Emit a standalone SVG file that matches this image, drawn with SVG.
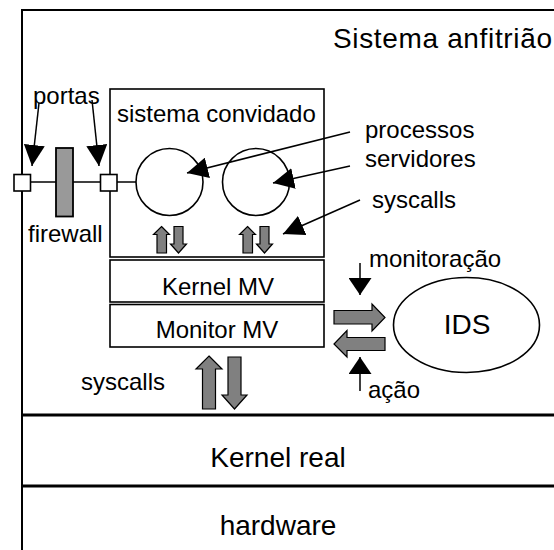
<svg xmlns="http://www.w3.org/2000/svg" width="554" height="550" viewBox="0 0 554 550">
  <style>
    .box { fill: #fff; stroke: #000; stroke-width: 1.6; }
    .wire { fill: none; stroke: #000; stroke-width: 1.5; }
    .block { fill: #808080; stroke: #000; stroke-width: 1.2; stroke-linejoin: miter; }
    .lbl { font-family: "Liberation Sans", Arial, sans-serif; font-size: 24px; fill: #000; }
    .big { font-family: "Liberation Sans", Arial, sans-serif; font-size: 28px; fill: #000; }
    .mid { text-anchor: middle; }
  </style>
  <defs>
    <marker id="head" markerUnits="userSpaceOnUse" markerWidth="21" markerHeight="21" refX="21" refY="10.5" orient="auto">
      <path d="M0,0 L21,10.5 L0,21 z" fill="#000"/>
    </marker>
    <marker id="headShort" markerUnits="userSpaceOnUse" markerWidth="17" markerHeight="23" refX="17" refY="11.5" orient="auto">
      <path d="M0,0 L17,11.5 L0,23 z" fill="#000"/>
    </marker>
  </defs>

  <!-- host system frame and layers -->
  <g id="host">
    <path d="M22,551 V10 H556" fill="none" stroke="#000" stroke-width="2"/>
    <text class="big" x="333" y="48" font-size="29" textLength="219" lengthAdjust="spacing">Sistema anfitrião</text>
  </g>
  <g id="kernel-real">
    <line x1="22" y1="415" x2="556" y2="415" stroke="#000" stroke-width="3"/>
    <text class="big mid" x="278" y="467">Kernel real</text>
  </g>
  <g id="hardware">
    <line x1="22" y1="486" x2="556" y2="486" stroke="#000" stroke-width="3"/>
    <text class="big mid" x="278" y="535">hardware</text>
  </g>

  <!-- guest system -->
  <g id="guest">
    <rect class="box" x="110" y="89" width="214" height="168"/>
    <text class="lbl" x="117" y="122">sistema convidado</text>
  </g>
  <g id="proc1">
    <circle class="box" cx="169.5" cy="182" r="33.5"/>
  </g>
  <g id="proc2">
    <circle class="box" cx="256" cy="182" r="33.5"/>
  </g>
  <g id="kernel-mv">
    <rect class="box" x="110" y="260" width="214" height="42"/>
    <text class="lbl mid" x="218" y="295">Kernel MV</text>
  </g>
  <g id="monitor-mv">
    <rect class="box" x="110" y="304.5" width="214" height="42.5"/>
    <text class="lbl mid" x="217" y="338">Monitor MV</text>
  </g>
  <g id="ids">
    <ellipse class="box" cx="466.5" cy="325" rx="73" ry="47.5"/>
    <text class="big mid" x="467" y="334">IDS</text>
  </g>

  <!-- network side: ports and firewall -->
  <g id="port-outer">
    <rect class="box" x="14" y="174.5" width="16.5" height="16.5" stroke-width="1.5"/>
  </g>
  <g id="port-inner">
    <rect class="box" x="100.5" y="174.5" width="16.5" height="16.5" stroke-width="1.5"/>
  </g>
  <g id="firewall">
    <rect x="56" y="148" width="17" height="68.5" fill="#999" stroke="#000" stroke-width="1.8"/>
    <text class="lbl" x="28" y="242">firewall</text>
  </g>

  <!-- labels -->
  <g id="labels">
    <text class="lbl" x="33" y="104">portas</text>
    <text class="lbl" x="365" y="138">processos</text>
    <text class="lbl" x="365" y="167">servidores</text>
    <text class="lbl" x="372" y="208">syscalls</text>
    <text class="lbl" x="81" y="390">syscalls</text>
    <text class="lbl" x="369" y="267">monitoração</text>
    <text class="lbl" x="368" y="398">ação</text>
  </g>

  <!-- connectors -->
  <g id="connectors">
    <line class="wire" x1="30.5" y1="182" x2="56" y2="182"/>
    <line class="wire" x1="73" y1="182" x2="100.5" y2="182"/>
    <line class="wire" x1="117" y1="182" x2="136" y2="182"/>

    <line class="wire" x1="39" y1="103" x2="32" y2="166" marker-end="url(#head)"/>
    <line class="wire" x1="92" y1="100" x2="99" y2="166" marker-end="url(#head)"/>
    <line class="wire" x1="350" y1="132" x2="187" y2="173" marker-end="url(#head)"/>
    <line class="wire" x1="350" y1="166" x2="273" y2="183" marker-end="url(#head)"/>
    <line class="wire" x1="360" y1="200" x2="283" y2="234" marker-end="url(#head)"/>
    <line class="wire" x1="360" y1="263" x2="360" y2="295" marker-end="url(#headShort)"/>
    <line class="wire" x1="360" y1="391" x2="360" y2="357" marker-end="url(#headShort)"/>

    <!-- syscall block arrows inside the guest -->
    <polygon class="block" points="161.5,226.5 169.5,234.5 166.5,234.5 166.5,253 157,253 157,234.5 153.5,234.5"/>
    <polygon class="block" points="174,226.5 183,226.5 183,244 186.5,244 178.5,253 170.5,244 174,244"/>
    <polygon class="block" points="247.5,226.5 255.5,234.5 252.5,234.5 252.5,253 243,253 243,234.5 239.5,234.5"/>
    <polygon class="block" points="260,226.5 269,226.5 269,244 272.5,244 264.5,253 256.5,244 260,244"/>

    <!-- syscalls to the real kernel -->
    <polygon class="block" points="209,356 222,369 215.5,369 215.5,409 202.5,409 202.5,369 196,369"/>
    <polygon class="block" points="228,357 241,357 241,395 247,395 234.5,409 222,395 228,395"/>

    <!-- monitor / IDS exchange -->
    <polygon class="block" points="334,310.5 372,310.5 372,304 385,317.5 372,331 372,324 334,324"/>
    <polygon class="block" points="385,337.5 347,337.5 347,330.5 334,344 347,357 347,350.5 385,350.5"/>
  </g>
</svg>
